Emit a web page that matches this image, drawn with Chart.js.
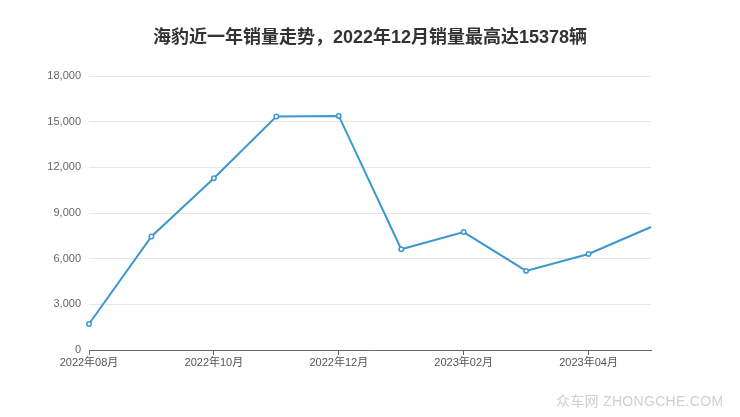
<!DOCTYPE html>
<html><head><meta charset="utf-8">
<script src="https://cdn.jsdelivr.net/npm/chart.js@4/dist/chart.umd.min.js"></script>
<style>
html,body{margin:0;padding:0;background:#fff;}
#wrap{position:relative;width:740px;height:417px;}
canvas{display:block;}
#title{position:absolute;left:0;top:22px;width:740px;text-align:center;font:bold 18px "Liberation Sans","Noto Sans CJK SC",sans-serif;color:#333;white-space:nowrap;}
#wm{position:absolute;left:556px;top:390px;font:14px "Liberation Sans","Noto Sans CJK SC",sans-serif;color:#cfcfcf;letter-spacing:0.3px;white-space:nowrap;}
</style></head>
<body>
<div id="wrap">
<canvas id="c" width="740" height="417"></canvas>
<div id="title">海豹近一年销量走势，2022年12月销量最高达15378辆</div>
<div id="wm">众车网 ZHONGCHE.COM</div>
</div>
<script>
const categories = ['2022年08月','2022年09月','2022年10月','2022年11月','2022年12月','2023年01月','2023年02月','2023年03月','2023年04月','2023年05月'];
const sales = [1710, 7460, 11280, 15340, 15378, 6620, 7750, 5200, 6310, 8080];
const yTicks = [0, 3000, 6000, 9000, 12000, 15000, 18000];

const font = {family: '"Liberation Sans","Noto Sans CJK SC",sans-serif', size: 11};
const lastIdx = sales.length - 1;
new Chart(document.getElementById('c'), {
  type: 'line',
  data: {labels: categories, datasets: [{
    data: sales, borderColor: '#3b97cc', borderWidth: 2, tension: 0,
    pointRadius: ctx => ctx.dataIndex === lastIdx ? 0 : 2.2,
    pointBorderWidth: 1.5, pointBackgroundColor: '#fff', pointBorderColor: '#3b97cc'
  }]},
  options: {
    responsive: false, animation: false,
    layout: {padding: {top: 76, right: 89, bottom: 0, left: 0}},
    plugins: {legend: {display: false}, tooltip: {enabled: false}, title: {display: false}},
    scales: {
      x: {
        offset: false,
        afterBuildTicks: s => { s.ticks = s.ticks.filter((t, i) => i % 2 === 0); },
        afterFit: s => { s.height = 67; },
        grid: {drawOnChartArea: false, drawTicks: true, tickLength: 5, color: '#666'},
        border: {color: '#666', width: 1},
        ticks: {autoSkip: false, maxRotation: 0, color: '#555', font: font, padding: 1}
      },
      y: {
        min: 0, max: 18000,
        afterBuildTicks: s => { s.ticks = yTicks.map(v => ({value: v})); },
        afterFit: s => { s.width = 89; },
        grid: {color: '#e6e6e6', drawTicks: false},
        border: {display: false},
        ticks: {color: '#666', font: font, padding: 8, callback: v => v.toLocaleString('en-US')}
      }
    }
  }
});
</script>
</body></html>
